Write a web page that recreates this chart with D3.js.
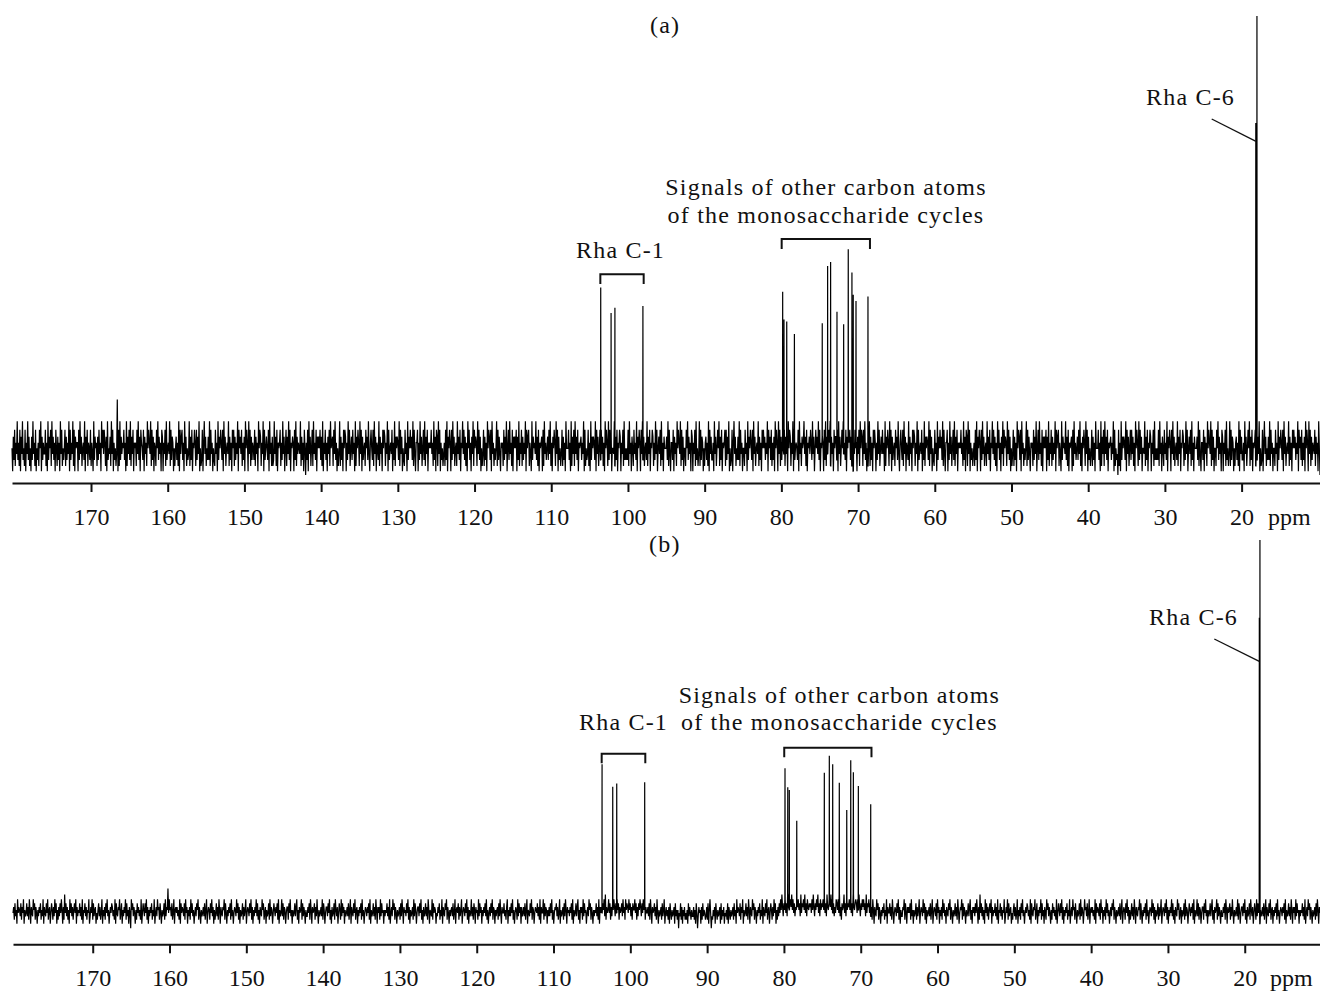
<!DOCTYPE html>
<html>
<head>
<meta charset="utf-8">
<script src="https://cdn.jsdelivr.net/npm/d3@7/dist/d3.min.js"></script>
<style>
  html, body { margin: 0; padding: 0; background: #fff; }
  svg { display: block; }
  text { font-family: "Liberation Serif", "Times New Roman", serif; fill: #111; }
</style>
</head>
<body>
<svg id="chart" width="1320" height="992"></svg>
<script>
// ---------------- DATA ----------------
const tickValues = [170, 160, 150, 140, 130, 120, 110, 100, 90, 80, 70, 60, 50, 40, 30, 20];

// Spectrum (a): peak positions (ppm) and intensities (Rha C-6 = 100)
const peakPpmA = [103.55, 102.2, 101.7, 98.05, 79.83, 79.66, 79.3, 78.3, 74.67, 73.97, 73.58, 72.75, 71.88, 71.28, 70.8, 70.63, 70.27, 68.71, 18.15, 18.0];
const peakIntA = [37.0, 31.1, 32.3, 32.7, 36.0, 29.6, 29.1, 26.2, 28.7, 42.0, 42.9, 31.4, 28.5, 45.9, 40.5, 35.3, 33.9, 34.9, 75.2, 100];

// Spectrum (b)
const peakPpmB = [103.68, 102.29, 101.77, 98.13, 79.86, 79.5, 79.3, 78.33, 74.74, 74.09, 73.65, 72.79, 71.82, 71.3, 70.96, 70.31, 68.7, 18.1, 18.02];
const peakIntB = [39.4, 33.3, 34.2, 34.5, 38.3, 33.2, 32.4, 24.1, 37.1, 41.7, 39.4, 34.4, 27.0, 40.5, 37.2, 33.5, 28.6, 79, 100];

// Noise level tables (intensity of each level code 0..B)
const levelsA = [-6.5, -5.6, -4.4, -3.0, -1.6, -0.3, 1.0, 2.4, 4.0, 6.0, 8.6, 11.0];
const levelsB = [-4.9, -3.7, -2.6, -1.7, -0.8, 0.0, 0.8, 1.8, 2.9, 4.2, 5.8, 6.8];

// Baseline noise levels (one character per sample, base-36 level codes)
const noiseA = [
  "51738264936281749352816493725173946281536285917364",
  "48261937582947361852736194825358273649183649281756",
  "61839472563917482653826419375627384619584862719354",
  "72948163524B18293746583619274839274816562849371865",
  "38174629586492837165285937461871648293564928376152",
  "57362918478361947253492738165862837491523816947253",
  "73928461532846193758638194725649273618582736491857",
  "48263719586194827365382746195872649183575381946272",
  "39472816568263947158274938165761839274654927361850",
  "63819472582946381757583729164836174829567284936152",
  "49273618587163948257384619275862948173562857394168",
  "53829471653927461858726491835648163927576392847153",
  "28461937585739284166816394725839274816565846293718",
  "72948163524628391758618394725629473816594837261958",
  "36174928576294837152482736195873819462535928374165",
  "62837491583946281757581739264827364918578264193756",
  "49372816567182946357384926175862948173524827361955",
  "58361927482947381656736491825348261937576391847258",
  "38472619586293847155492738165871648293535382946175",
  "28463917586184937256392748165872639481574829361755",
  "57392841663817462958649283715528593746187164829352",
  "49283761526736291847336194725859273816568283749152",
  "38169472537392846155284619375863819472564927361858",
  "57364918573826371958619482736548274619587264918356",
  "53819462756947281657486394715857493816576183927468",
  "69274618577381947258594638175768372916485617482958",
  "72849361525927361858616394825748461927586294817356",
  "28573941685382947165392746185872649183564816392757",
  "63928471532846193758573928416681639472583927481656",
  "58462937187294816352462839175861839472562947381659",
  "48372619583617492857629483715248273619587381946253",
  "59283741656283749158394628175758173926482736491857",
  "82641937564937281656718294635738492617586294817352",
  "482736195558361927482947381656736491825340826193757",
  "63918472583847261958629384715549273816587164829353",
  "53829461752846391758618493725639274816587263948157",
  "48293617555739284166381746295864928371552859374618",
  "71648293524928376152673629184733619472585927381656",
  "82837491523816947253739284615528461937586381947256",
  "49273618585736491857382637195861948273654827461950"
];
const noiseB = [
  "46273518465372648153473628516438572641536472538164",
  "37482561475263847152637485162947362518473625748163",
  "54736281547362548136482735614257362481536274835146",
  "47635281743658247153648273516408573641527463528147",
  "5374826153647253814638562741534728365A485637248156",
  "46352817465372846153628473514637582641534637258146",
  "52748361524736285164365827415364728351465384726153",
  "47263581465374826153648372516438572461534728365147",
  "53647281534837265146627483515347368251645827364153",
  "36472851645726384153463827514663748251634728536147",
  "52837461534637258164374825615364728351465364728153",
  "47362851646283745153547362814638572641534627385164",
  "53748261534628375146637482516347362851543827465143",
  "64725381643758264153563724815647263581465374826153",
  "48362751645283746153647382514637482651535627384164",
  "47352681536374825146528374616346372581543748265146",
  "54736281644827365153637482514657362481534627385164",
  "53647281534736825164628374514638572641535473628164",
  "64758392645847263758637485726457384628576485736275",
  "58472637586374857264463728516457362841534627358146",
  "35261742534617352504372615362425173642533625174036",
  "45162735423627158403253617425346172536143527164253",
  "46273518465372648153473628516438572641536472538164",
  "37482561475263847152637485963758473965786958473657",
  "68573947685947386576748596375869473857685847396578",
  "69584736487584936275694738576858473965787485963758",
  "68573947684736285164385726415364725381644736285146",
  "53748261533658274164647283515347263581465384726153",
  "46372581465372846153628473516437582641534736285146",
  "58273641534736825164637485162947362518473625748163",
  "54736281547362548136482735614257362481536274835146",
  "47635281743658247153648273516428573641527463528147",
  "53748261536472538146385627415347283651485637248156",
  "46352817465372846153628473514637582641534637258146",
  "52748361524736285164365827415364728351465384726153",
  "47263581465374826153648372516438572461534728365147",
  "53647281534837265146627483515347368251645827364153",
  "36472851645726384153463827514663748251634728536147",
  "52837461534637258164374825615364728351465364728153",
  "47362851646283745153547362814638572641534627385164"
];

// ---------------- LAYOUT ----------------
const svg = d3.select("#chart");
svg.append("rect").attr("width", 1320).attr("height", 992).attr("fill", "#fff");

const panels = [
  {
    noise: noiseA.join(""), levels: levelsA,
    peakPpm: peakPpmA, peakInt: peakIntA,
    xDomain: [180.3, 9.78], xRange: [12, 1320],
    yRange: [447, 16], axisY: 483,
    label: {t: "(a)", x: 650, y: 33},
    sig: {cx: 826, y1: 195, y2: 223},
    c1: {x: 576, y: 258, b0: 103.6, b1: 97.95, top: 274.3, bot: 284},
    other: {b0: 79.96, b1: 68.45, top: 239, bot: 249},
    c6: {x: 1146, y: 105, lx1: 1211.7, ly1: 119, lx2: 1256, ly2: 141.3},
    ppmX: 1268
  },
  {
    noise: noiseB.join(""), levels: levelsB,
    peakPpm: peakPpmB, peakInt: peakIntB,
    xDomain: [180.38, 10.2], xRange: [13, 1320],
    yRange: [910, 540], axisY: 944.3,
    label: {t: "(b)", x: 649, y: 552},
    sig: {cx: 839.4, y1: 703, y2: 730},
    c1: {x: 579, y: 730, b0: 103.73, b1: 98.05, top: 753.7, bot: 763.3},
    other: {b0: 79.96, b1: 68.6, top: 747.7, bot: 757.3},
    c6: {x: 1149, y: 625, lx1: 1214.3, ly1: 639, lx2: 1259.3, ly2: 661.3},
    ppmX: 1270
  }
];

panels.forEach(p => {
  const x = d3.scaleLinear().domain(p.xDomain).range(p.xRange);
  const y = d3.scaleLinear().domain([0, 100]).range(p.yRange);

  // build trace: noise samples + peak spikes
  const codes = p.noise.split("");
  const n = codes.length;
  const pts = codes.map((c, i) => ({
    ppm: p.xDomain[0] + (p.xDomain[1] - p.xDomain[0]) * i / (n - 1),
    v: p.levels[parseInt(c, 36)]
  }));
  const step = (p.xDomain[0] - p.xDomain[1]) / (n - 1);
  const extra = [];
  p.peakPpm.forEach((pp, k) => {
    const idx = Math.max(0, Math.min(n - 1, Math.round((p.xDomain[0] - pp) / step)));
    const base = pts[idx].v;
    extra.push({ppm: pp + 0.02, v: base}, {ppm: pp, v: p.peakInt[k]}, {ppm: pp - 0.02, v: base});
  });
  const all = pts.concat(extra).sort((a, b) => b.ppm - a.ppm);

  const line = d3.line().x(d => x(d.ppm)).y(d => y(d.v));
  svg.append("path")
    .datum(all)
    .attr("d", line)
    .attr("fill", "none")
    .attr("stroke", "#000")
    .attr("stroke-width", 1.2);

  // axis
  const axis = d3.axisBottom(x).tickValues(tickValues).tickSize(9).tickSizeOuter(0).tickPadding(16)
    .tickFormat(d3.format("d"));
  const g = svg.append("g").attr("transform", `translate(0,${p.axisY})`).call(axis);
  g.select(".domain").attr("stroke", "#111").attr("stroke-width", 2);
  g.selectAll(".tick line").attr("stroke", "#111").attr("stroke-width", 2);
  g.selectAll(".tick text").attr("font-family", "Liberation Serif, Times New Roman, serif")
    .attr("font-size", 24).attr("fill", "#111");
  g.append("text").attr("x", p.ppmX).attr("y", 9 + 16).attr("dy", "0.71em")
    .attr("font-size", 24).attr("text-anchor", "start").attr("fill", "#111").text("ppm");

  // annotations
  const ann = (t, xx, yy, anchor) => svg.append("text").attr("x", xx).attr("y", yy)
    .attr("font-size", 24).attr("letter-spacing", "1.2px").attr("text-anchor", anchor || "start").text(t);
  ann(p.label.t, p.label.x, p.label.y);
  ann("Signals of other carbon atoms", p.sig.cx, p.sig.y1, "middle");
  ann("of the monosaccharide cycles", p.sig.cx, p.sig.y2, "middle");
  ann("Rha C-1", p.c1.x, p.c1.y);
  ann("Rha C-6", p.c6.x, p.c6.y);

  const bracket = (b0, b1, top, bot) => svg.append("path")
    .attr("d", `M${x(b0)},${bot}V${top}H${x(b1)}V${bot}`)
    .attr("fill", "none").attr("stroke", "#111").attr("stroke-width", 2);
  bracket(p.c1.b0, p.c1.b1, p.c1.top, p.c1.bot);
  bracket(p.other.b0, p.other.b1, p.other.top, p.other.bot);

  svg.append("line").attr("x1", p.c6.lx1).attr("y1", p.c6.ly1).attr("x2", p.c6.lx2).attr("y2", p.c6.ly2)
    .attr("stroke", "#111").attr("stroke-width", 1.3);
});
</script>
</body>
</html>
